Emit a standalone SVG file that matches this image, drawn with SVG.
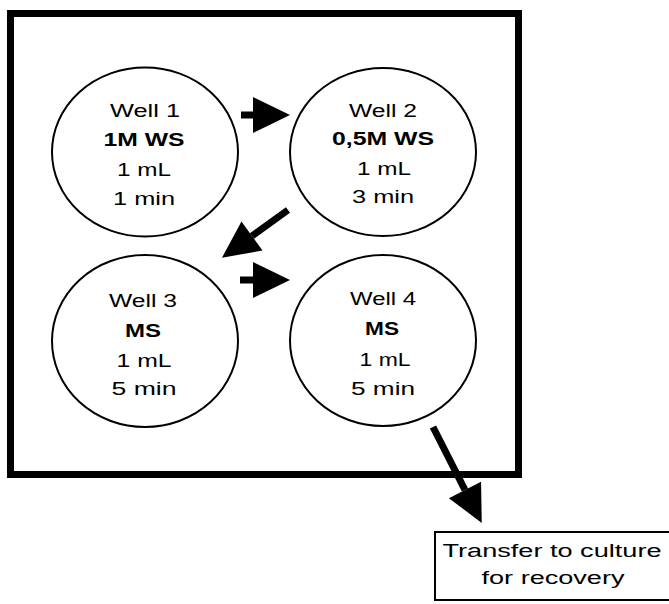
<svg xmlns="http://www.w3.org/2000/svg" width="669" height="604" viewBox="0 0 669 604">
<style>
.well{fill:#fff;stroke:#000;stroke-width:2}
.t{font-family:"Liberation Sans",Arial,sans-serif;font-size:18px;fill:#000;text-anchor:middle}
.b{font-weight:bold}
.shaft{stroke:#000;stroke-width:7;fill:none}
</style>
<defs>
<marker id="ah" markerUnits="userSpaceOnUse" markerWidth="38" markerHeight="36" refX="0" refY="18" orient="auto" overflow="visible">
<path d="M0,0 L37,18 L0,36 z" fill="#000"/>
</marker>
</defs>
<rect width="669" height="604" fill="#fff"/>
<g id="plate">
<rect x="10.5" y="13.5" width="508" height="461" fill="none" stroke="#000" stroke-width="7"/>
</g>
<g id="well1">
<ellipse class="well" cx="145" cy="152" rx="93" ry="84.5"/>
<text class="t" x="145" y="117" textLength="70" lengthAdjust="spacingAndGlyphs">Well 1</text>
<text class="t b" x="144" y="146" textLength="81" lengthAdjust="spacingAndGlyphs">1M WS</text>
<text class="t" x="144" y="176" textLength="54" lengthAdjust="spacingAndGlyphs">1 mL</text>
<text class="t" x="144" y="205" textLength="62" lengthAdjust="spacingAndGlyphs">1 min</text>
</g>
<g id="well2">
<ellipse class="well" cx="383" cy="152" rx="93" ry="84"/>
<text class="t" x="383" y="117" textLength="68" lengthAdjust="spacingAndGlyphs">Well 2</text>
<text class="t b" x="383" y="145" textLength="102" lengthAdjust="spacingAndGlyphs">0,5M WS</text>
<text class="t" x="384" y="175" textLength="54" lengthAdjust="spacingAndGlyphs">1 mL</text>
<text class="t" x="383" y="203" textLength="62" lengthAdjust="spacingAndGlyphs">3 min</text>
</g>
<g id="well3">
<ellipse class="well" cx="145" cy="341" rx="93" ry="86"/>
<text class="t" x="143" y="307" textLength="68" lengthAdjust="spacingAndGlyphs">Well 3</text>
<text class="t b" x="143" y="337" textLength="36" lengthAdjust="spacingAndGlyphs">MS</text>
<text class="t" x="144" y="367" textLength="55" lengthAdjust="spacingAndGlyphs">1 mL</text>
<text class="t" x="144" y="395" textLength="65" lengthAdjust="spacingAndGlyphs">5 min</text>
</g>
<g id="well4">
<ellipse class="well" cx="383" cy="340.5" rx="93" ry="85.5"/>
<text class="t" x="383" y="305" textLength="66" lengthAdjust="spacingAndGlyphs">Well 4</text>
<text class="t b" x="382" y="335" textLength="34" lengthAdjust="spacingAndGlyphs">MS</text>
<text class="t" x="385" y="366" textLength="51" lengthAdjust="spacingAndGlyphs">1 mL</text>
<text class="t" x="383" y="395" textLength="64" lengthAdjust="spacingAndGlyphs">5 min</text>
</g>
<g id="recovery">
<rect x="435" y="532" width="240" height="68" fill="#fff" stroke="#000" stroke-width="2"/>
<text class="t" x="552" y="557" textLength="219" lengthAdjust="spacingAndGlyphs">Transfer to culture</text>
<text class="t" x="553" y="584" textLength="143" lengthAdjust="spacingAndGlyphs">for recovery</text>
</g>
<g id="connectors">
<line class="shaft" x1="241" y1="115" x2="253" y2="115" marker-end="url(#ah)"/>
<line class="shaft" x1="288" y1="210" x2="252" y2="236" marker-end="url(#ah)"/>
<line class="shaft" x1="240" y1="280" x2="253" y2="280" marker-end="url(#ah)"/>
<line class="shaft" x1="433" y1="427" x2="465" y2="490" marker-end="url(#ah)"/>
</g>
</svg>
